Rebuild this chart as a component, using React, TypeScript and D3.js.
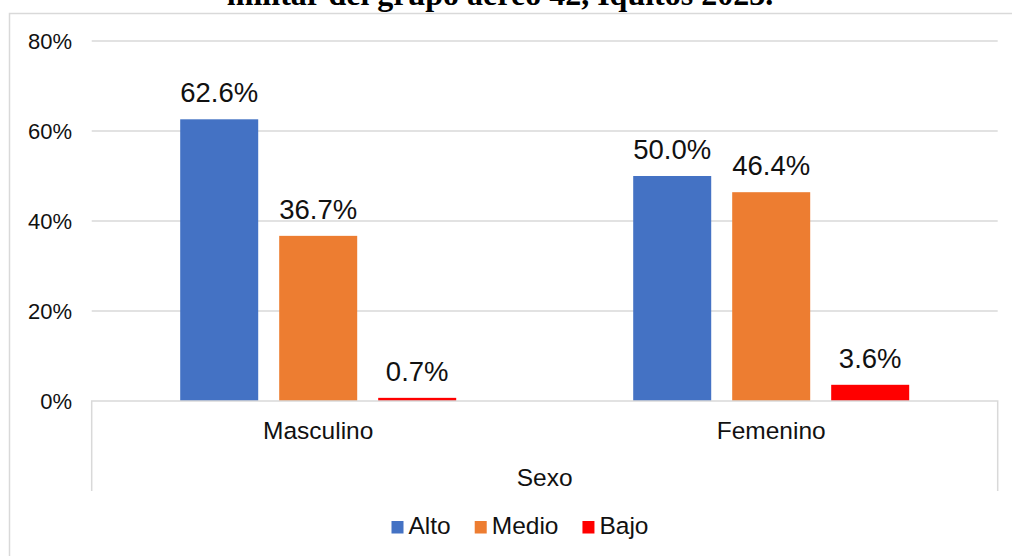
import React, { useEffect, useRef } from 'react';
import * as d3 from 'd3';

const categories = ['Masculino', 'Femenino'];
const seriesNames = ['Alto', 'Medio', 'Bajo'];
const seriesColors = ['#4472C4', '#ED7D31', '#FF0000'];
// values[series][category], percent
const alto = [62.6, 50.0];
const medio = [36.7, 46.4];
const bajo = [0.7, 3.6];
const yTicks = [0, 20, 40, 60, 80];
const titleText = 'militar del grupo aéreo 42, Iquitos 2023.';
const axisTitle = 'Sexo';

const WIDTH = 1012;
const HEIGHT = 556;
const FONT = '"Liberation Sans", Arial, sans-serif';

const App: React.FC = () => {
  const svgRef = useRef<SVGSVGElement>(null);

  useEffect(() => {
    if (!svgRef.current) return;
    const svg = d3.select(svgRef.current);
    svg.selectAll('*').remove();

    const seriesValues = [alto, medio, bajo];
    const plot = { left: 91.7, right: 997.7, top: 41, bottom: 401 };

    // Chart frame
    svg.append('rect')
      .attr('x', 9.5)
      .attr('y', 13.5)
      .attr('width', WIDTH + 20)
      .attr('height', HEIGHT + 20)
      .attr('fill', 'white')
      .attr('stroke', '#d9d9d9')
      .attr('stroke-width', 1.5);

    // Title, cut off at the top edge as in the source
    svg.append('text')
      .attr('x', 500)
      .attr('y', 5)
      .attr('text-anchor', 'middle')
      .style('font-family', '"Liberation Serif", "Times New Roman", serif')
      .style('font-weight', 'bold')
      .style('font-size', '32px')
      .style('fill', '#000')
      .text(titleText);

    const y = d3.scaleLinear().domain([0, 80]).range([plot.bottom, plot.top]);
    const x0 = d3.scaleBand().domain(categories).range([plot.left, plot.right]);
    const x1 = d3.scaleBand()
      .domain(seriesNames)
      .range([0, x0.bandwidth()])
      .paddingInner(0.212)
      .paddingOuter(0.894);

    // Gridlines
    svg.append('g')
      .selectAll('line')
      .data(yTicks.filter(t => t > 0))
      .join('line')
      .attr('x1', plot.left)
      .attr('x2', plot.right)
      .attr('y1', d => y(d))
      .attr('y2', d => y(d))
      .attr('stroke', '#d9d9d9')
      .attr('stroke-width', 1.5);

    // Y tick labels
    svg.append('g')
      .selectAll('text')
      .data(yTicks)
      .join('text')
      .attr('x', 72)
      .attr('y', d => y(d) + 8)
      .attr('text-anchor', 'end')
      .style('font-family', FONT)
      .style('font-size', '22px')
      .style('fill', '#111')
      .text(d => `${d}%`);

    // Bars + data labels
    seriesNames.forEach((s, si) => {
      const g = svg.append('g');
      g.selectAll('rect')
        .data(categories)
        .join('rect')
        .attr('x', c => (x0(c) || 0) + (x1(s) || 0))
        .attr('y', (c, ci) => y(seriesValues[si][ci]))
        .attr('width', x1.bandwidth())
        .attr('height', (c, ci) => plot.bottom - y(seriesValues[si][ci]))
        .attr('fill', seriesColors[si]);

      g.selectAll('text')
        .data(categories)
        .join('text')
        .attr('x', c => (x0(c) || 0) + (x1(s) || 0) + x1.bandwidth() / 2)
        .attr('y', (c, ci) => y(seriesValues[si][ci]) - 17)
        .attr('text-anchor', 'middle')
        .style('font-family', FONT)
        .style('font-size', '27.5px')
        .style('fill', '#111')
        .text((c, ci) => `${seriesValues[si][ci].toFixed(1)}%`);
    });

    // Category axis box (multi-level)
    svg.append('path')
      .attr('d', `M${plot.left},491 V${plot.bottom} H${plot.right} V491`)
      .attr('fill', 'none')
      .attr('stroke', '#d9d9d9')
      .attr('stroke-width', 1.5);

    svg.append('g')
      .selectAll('text')
      .data(categories)
      .join('text')
      .attr('x', c => (x0(c) || 0) + x0.bandwidth() / 2)
      .attr('y', 439)
      .attr('text-anchor', 'middle')
      .style('font-family', FONT)
      .style('font-size', '24.5px')
      .style('fill', '#111')
      .text(c => c);

    svg.append('text')
      .attr('x', (plot.left + plot.right) / 2)
      .attr('y', 486)
      .attr('text-anchor', 'middle')
      .style('font-family', FONT)
      .style('font-size', '24.5px')
      .style('fill', '#111')
      .text(axisTitle);

    // Legend
    const legend = svg.append('g');
    let cursor = 0;
    seriesNames.forEach((s, i) => {
      const item = legend.append('g').attr('transform', `translate(${cursor},0)`);
      item.append('rect')
        .attr('x', 0)
        .attr('y', -13)
        .attr('width', 12)
        .attr('height', 12.5)
        .attr('fill', seriesColors[i]);
      const t = item.append('text')
        .attr('x', 17)
        .attr('y', 0)
        .style('font-family', FONT)
        .style('font-size', '24.5px')
        .style('fill', '#111')
        .text(s);
      const w = (t.node() as SVGTextElement).getComputedTextLength();
      cursor += 17 + w + 24;
    });
    const legendWidth = cursor - 24;
    legend.attr('transform', `translate(${520 - legendWidth / 2},534)`);
  }, []);

  return (
    <svg
      ref={svgRef}
      width={WIDTH}
      height={HEIGHT}
      style={{ display: 'block', position: 'absolute', left: 0, top: 0, background: 'white' }}
    />
  );
};

export default App;
